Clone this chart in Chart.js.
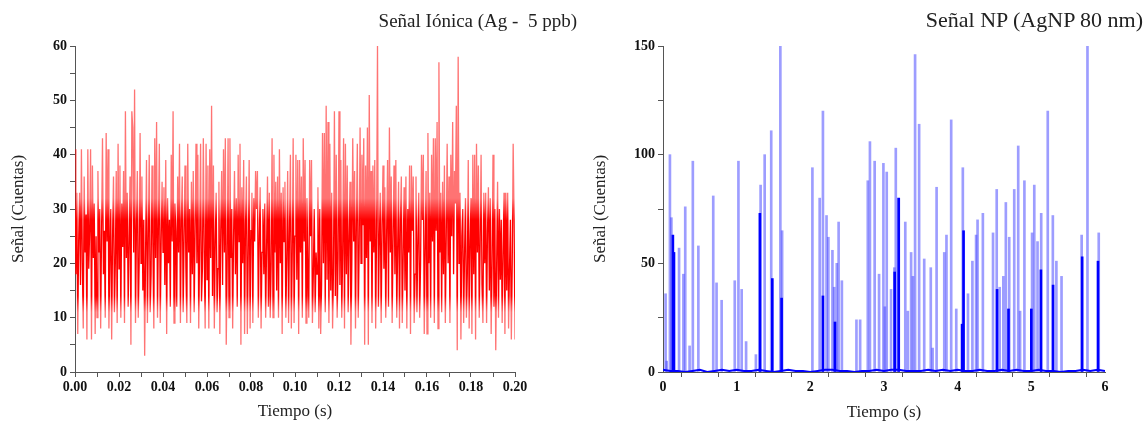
<!DOCTYPE html>
<html>
<head>
<meta charset="utf-8">
<script src="https://cdn.jsdelivr.net/npm/chart.js@4.4.0/dist/chart.umd.min.js"></script>
<style>
  body { margin: 0; background: #fff; }
  #wrap { position: relative; width: 1147px; height: 427px; overflow: hidden; }
  canvas { position: absolute; top: 0; }
  #ionChart { left: 0; }
  #npChart { left: 580px; }
  .title { position: absolute; white-space: pre; font-family: 'Liberation Serif', 'Times New Roman', serif; color: #222; }
  #ionTitle { right: 570px; top: 10px; font-size: 19px; }
  #npTitle { right: 4px; top: 7px; font-size: 22px; }
</style>
</head>
<body>
<div id="wrap">
  <canvas id="ionChart" width="580" height="427"></canvas>
  <canvas id="npChart" width="567" height="427"></canvas>
  <div class="title" id="ionTitle">Señal Iónica (Ag -  5 ppb)</div>
  <div class="title" id="npTitle">Señal NP (AgNP 80 nm)</div>
</div>
<script>
// ionic signal, counts per dwell, 0 - 0.20 s
const ionDuration = 0.2;
const ionSignal = [
  41, 18, 33, 7, 24, 33, 16, 41, 20, 8, 36, 22, 29, 6, 41, 19, 26, 41, 6, 38, 21, 31, 7, 25,
  10, 37, 22, 30, 8, 26, 43, 18, 26, 10, 44, 24, 41, 8, 21, 30, 6, 25, 36, 11, 20, 37, 9, 42,
  19, 38, 10, 31, 23, 37, 9, 48, 21, 33, 12, 24, 36, 5, 48, 45, 22, 52, 9, 26, 37, 10, 20, 44,
  20, 36, 15, 28, 3, 22, 39, 9, 25, 40, 11, 18, 38, 23, 8, 43, 21, 46, 10, 27, 42, 9, 24, 35,
  22, 34, 16, 39, 7, 32, 20, 28, 12, 40, 24, 48, 9, 31, 26, 12, 36, 22, 42, 9, 28, 36, 11, 25,
  38, 19, 9, 42, 22, 30, 9, 35, 18, 37, 11, 26, 42, 20, 40, 8, 24, 42, 13, 19, 43, 22, 8, 42,
  17, 38, 8, 41, 21, 49, 14, 38, 8, 24, 33, 11, 19, 35, 7, 26, 37, 16, 41, 22, 43, 5, 20, 43,
  10, 43, 21, 30, 8, 25, 37, 18, 32, 12, 40, 24, 42, 5, 34, 20, 39, 7, 27, 36, 7, 22, 39, 8,
  26, 33, 9, 32, 24, 37, 30, 37, 10, 25, 34, 8, 22, 30, 18, 31, 10, 23, 36, 12, 33, 10, 20, 43,
  10, 40, 22, 35, 15, 36, 10, 41, 20, 33, 7, 34, 24, 35, 10, 21, 37, 9, 26, 40, 8, 22, 43, 9,
  25, 40, 17, 39, 7, 39, 22, 36, 10, 43, 24, 39, 9, 32, 20, 10, 39, 25, 39, 9, 18, 30, 11, 22,
  18, 34, 8, 30, 7, 16, 44, 20, 44, 11, 49, 17, 46, 9, 42, 15, 33, 8, 19, 48, 14, 40, 10, 21,
  48, 16, 39, 10, 22, 43, 8, 42, 18, 38, 11, 25, 35, 5, 20, 43, 24, 37, 8, 28, 42, 10, 23, 45,
  20, 40, 27, 43, 5, 38, 21, 45, 5, 51, 24, 37, 9, 38, 22, 39, 8, 26, 60, 12, 24, 33, 9, 27,
  38, 19, 34, 10, 26, 39, 12, 45, 22, 36, 9, 25, 38, 18, 39, 10, 23, 35, 8, 28, 36, 9, 21, 34,
  15, 36, 8, 30, 22, 38, 7, 38, 26, 36, 9, 18, 36, 11, 24, 33, 10, 20, 40, 28, 40, 7, 22, 37,
  7, 44, 20, 33, 10, 40, 24, 43, 9, 43, 26, 46, 8, 57, 22, 33, 11, 35, 18, 38, 9, 25, 42, 20,
  36, 9, 40, 25, 46, 18, 37, 31, 49, 4, 58, 20, 33, 6, 25, 30, 9, 22, 32, 10, 18, 39, 8, 24,
  32, 7, 40, 18, 40, 6, 42, 22, 38, 10, 24, 40, 16, 9, 33, 20, 33, 9, 26, 34, 15, 32, 7, 20,
  40, 12, 30, 4, 20, 35, 10, 30, 17, 28, 9, 22, 33, 7, 33, 15, 33, 8, 19, 28, 6, 20, 42, 28,
  6
];

// nanoparticle events, 0 - 6 s
const npSpikeTimes = [0.035, 0.05, 0.094, 0.114, 0.148, 0.218, 0.277, 0.302, 0.361, 0.405, 0.48,
  0.682, 0.727, 0.796, 0.974, 1.024, 1.068, 1.128, 1.261, 1.325, 1.38, 1.469, 1.593, 1.617,
  2.028, 2.127, 2.171, 2.22, 2.245, 2.3, 2.324, 2.359, 2.384, 2.428, 2.626, 2.676,
  2.78, 2.809, 2.873, 2.933, 2.992, 3.012, 3.037, 3.096, 3.14, 3.16, 3.195, 3.289, 3.323, 3.368,
  3.393, 3.422, 3.477, 3.546, 3.635, 3.66, 3.714, 3.818, 3.848, 3.912, 3.981,
  4.07, 4.14, 4.2, 4.25, 4.27, 4.342, 4.48, 4.53, 4.57, 4.62, 4.654, 4.7, 4.768, 4.822, 4.847,
  4.906, 5.01, 5.04, 5.084, 5.134, 5.223, 5.292, 5.34, 5.41, 5.683, 5.762, 5.915];
const npSpikeHeights = [36, 5, 100, 71, 55, 57, 45, 76, 12, 97, 58,
  81, 41, 33, 42, 97, 38, 14, 8, 86, 100, 111, 150, 65,
  94, 80, 120, 72, 62, 56, 39, 50, 69, 42, 24, 24,
  88, 106, 97, 45, 96, 30, 92, 38, 48, 103, 80, 69, 28, 55,
  44, 146, 114, 52, 48, 11, 85, 55, 63, 116, 29,
  94, 36, 51, 63, 70, 73, 64, 84, 39, 44, 78, 62, 84, 104, 28,
  88, 64, 86, 60, 73, 120, 72, 51, 44, 63, 150, 64];
const npCoreTimes = [0.134, 0.148, 1.315, 1.484, 1.61, 2.171, 2.335, 3.145, 3.2, 4.06, 4.08,
  4.535, 4.69, 5.0, 5.13, 5.295, 5.69, 5.905];
const npCoreHeights = [63, 55, 73, 43, 34, 35, 23, 46, 80, 22, 65, 38, 29, 29, 47, 40, 53, 51];
// background counts every 0.1 s
const npBaseline = [1, 0.5, 0.5, 0, 0.5, 1, 0, 0.5, 1, 0.5, 1, 0.5, 0.5, 1, 0.5, 0, 0.5, 1, 0.5, 0.5,
  0, 0.5, 1, 1, 0.5, 0.5, 0, 0.5, 0.5, 1, 0.5, 1, 1, 0.5, 0.5, 0.5, 1, 0.5, 1, 0.5, 1, 0.5, 0.5, 1, 0.5,
  0.5, 1, 0.5, 1, 0.5, 0.5, 1, 0.5, 0.5, 0, 0.5, 0.5, 1, 0.5, 1, 0.5];

const serif = "'Liberation Serif', 'Times New Roman', serif";
const tickFont = { family: serif, size: 14, weight: 'bold' };
const titleFont = { family: serif, size: 17 };
const axisGrey = '#555';

function axisX(min, max, step, label, titlePad) {
  return {
    type: 'linear', min: min, max: max, offset: false,
    grid: { display: true, drawOnChartArea: false, drawTicks: true, tickLength: 5, color: axisGrey, tickColor: axisGrey },
    border: { display: true, color: axisGrey, width: 1 },
    ticks: { stepSize: step, color: '#111', font: tickFont, padding: 2, maxRotation: 0, autoSkip: false, callback: label },
    title: { display: true, text: 'Tiempo (s)', color: '#222', font: titleFont, padding: { top: 0, bottom: titlePad } },
    afterFit: (s) => { s.height = 55; }
  };
}

function axisY(max, step, label, width, titlePad) {
  return {
    min: 0, max: max,
    grid: { display: true, drawOnChartArea: false, drawTicks: true, tickLength: 5, color: axisGrey, tickColor: axisGrey },
    border: { display: true, color: axisGrey, width: 1 },
    ticks: { stepSize: step, color: '#111', font: tickFont, padding: 3, autoSkip: false, callback: label },
    title: { display: true, text: 'Señal (Cuentas)', color: '#222', font: titleFont, padding: { top: titlePad, bottom: 0 } },
    afterFit: (s) => { s.width = width; }
  };
}

// dense core of the trace is solid red, the sparse excursions look pale
function ionStroke(context) {
  const chart = context.chart;
  if (!chart.chartArea) return 'rgb(255, 0, 0)';
  const y = chart.scales.y;
  const top = y.getPixelForValue(60), bottom = y.getPixelForValue(0);
  const g = chart.ctx.createLinearGradient(0, top, 0, bottom);
  const pale = 'rgba(255, 0, 0, 0.55)', full = 'rgb(255, 0, 0)';
  g.addColorStop(0, pale);
  g.addColorStop((60 - 32) / 60, pale);
  g.addColorStop((60 - 28) / 60, full);
  g.addColorStop((60 - 14) / 60, full);
  g.addColorStop((60 - 11) / 60, pale);
  g.addColorStop(1, pale);
  return g;
}

let ionPoints = [];
for (let i = 0; i < ionSignal.length; i++) {
  ionPoints.push({ x: i * ionDuration / (ionSignal.length - 1), y: ionSignal[i] });
}

new Chart(document.getElementById('ionChart'), {
  type: 'line',
  data: {
    datasets: [{
      data: ionPoints,
      borderColor: ionStroke,
      borderWidth: 1.3,
      pointRadius: 0,
      tension: 0
    }]
  },
  options: {
    responsive: false,
    animation: false,
    layout: { padding: { top: 46, right: 65, left: 0, bottom: 0 } },
    plugins: { legend: { display: false }, tooltip: { enabled: false } },
    scales: {
      x: axisX(0, 0.2, 0.01, (v, i) => (i % 2 === 0 ? (i * 0.01).toFixed(2) : ''), 5),
      y: axisY(60, 5, (v) => (v % 10 === 0 ? v : ''), 75, 8)
    }
  }
});

let spikes = npSpikeTimes.map((t, i) => ({ x: t, y: npSpikeHeights[i] }));
let cores = npCoreTimes.map((t, i) => ({ x: t, y: npCoreHeights[i] }));
let base = npBaseline.map((v, i) => ({ x: i * 0.1, y: v }));

new Chart(document.getElementById('npChart'), {
  type: 'bar',
  data: {
    datasets: [{
      type: 'line',
      data: base,
      borderColor: '#0000ff',
      borderWidth: 2,
      pointRadius: 0
    }, {
      data: cores,
      backgroundColor: '#0000ff',
      barThickness: 2,
      grouped: false
    }, {
      data: spikes,
      backgroundColor: 'rgba(60, 60, 255, 0.5)',
      barThickness: 2,
      grouped: false
    }]
  },
  options: {
    responsive: false,
    animation: false,
    layout: { padding: { top: 46, right: 42, left: 0, bottom: 0 } },
    plugins: { legend: { display: false }, tooltip: { enabled: false } },
    scales: {
      x: axisX(0, 6, 0.5, (v) => (Number.isInteger(v) ? v : ''), 4),
      y: axisY(150, 25, (v) => (v % 50 === 0 ? v : ''), 83, 10)
    }
  }
});
</script>
</body>
</html>
